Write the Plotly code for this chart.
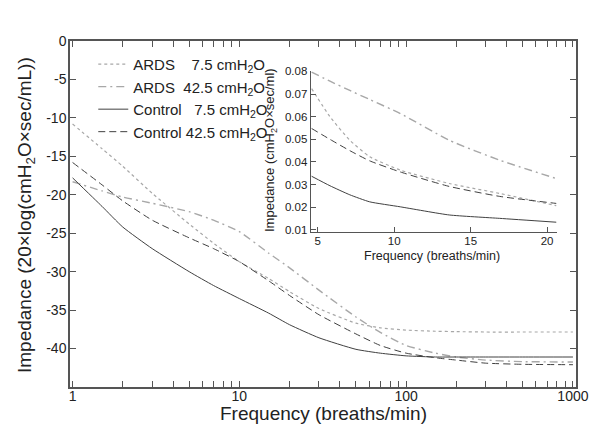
import plotly.graph_objects as go
import numpy as np

# ---------------- data ----------------
freq_main = [1, 1.5, 2, 3, 5, 7, 10, 15, 20, 30, 50, 70, 100, 150, 200, 300, 500, 1000]
ards_75_db = [-10.8, -14.0, -16.3, -19.8, -23.8, -26.3, -28.7, -30.9, -32.6, -34.8, -36.7,
              -37.3, -37.6, -37.75, -37.8, -37.85, -37.85, -37.85]
ards_425_db = [-18.3, -19.5, -20.3, -21.1, -22.2, -23.3, -24.8, -27.6, -29.5, -32.4, -35.9,
               -37.9, -39.6, -40.6, -41.1, -41.5, -41.7, -41.75]
ctrl_75_db = [-17.8, -21.5, -24.2, -27.0, -30.0, -31.8, -33.5, -35.4, -36.9, -38.6, -40.1,
              -40.6, -40.95, -41.1, -41.1, -41.1, -41.1, -41.1]
ctrl_425_db = [-15.8, -18.7, -20.8, -23.3, -25.6, -27.0, -28.7, -31.2, -33.1, -35.6, -38.1,
               -39.6, -40.6, -41.2, -41.5, -41.9, -42.05, -42.1]

freq_inset = [4.6, 5.8, 7.1, 8.4, 10.4, 13.6, 16.9, 20.6]
ards_75_in = [0.0724, 0.0600, 0.0496, 0.0423, 0.0364, 0.0305, 0.0261, 0.0207]
ards_425_in = [0.0797, 0.0757, 0.0716, 0.0676, 0.0614, 0.0496, 0.0408, 0.0327]
ctrl_75_in = [0.0337, 0.0295, 0.0255, 0.0224, 0.0202, 0.0166, 0.0151, 0.0134]
ctrl_425_in = [0.0548, 0.0500, 0.0450, 0.0405, 0.0356, 0.0292, 0.0248, 0.0217]

names = ["ARDS\u00a0\u00a0\u00a0 7.5 cmH<sub>2</sub>O",
         "ARDS\u00a0 42.5 cmH<sub>2</sub>O",
         "Control\u00a0\u00a0 7.5 cmH<sub>2</sub>O",
         "Control 42.5 cmH<sub>2</sub>O"]

main_tick_vals = [1, 10, 100, 1000]
y_tick_vals = [0, -5, -10, -15, -20, -25, -30, -35, -40]
inset_x_ticks = [5, 10, 15, 20]
inset_y_ticks = [0.01, 0.02, 0.03, 0.04, 0.05, 0.06, 0.07, 0.08]

# ---------------- styles ----------------
styles = [
    dict(color="#a8a8a8", dash="dot", width=1.2),
    dict(color="#a8a8a8", dash="8px,4px,2px,4px", width=1.4),
    dict(color="#404040", dash="solid", width=1.0),
    dict(color="#404040", dash="7px,4px", width=1.0),
]

FONT = "Arial, Liberation Sans, sans-serif"
TXT = "#222222"
fig = go.Figure()

main_series = [ards_75_db, ards_425_db, ctrl_75_db, ctrl_425_db]
inset_series = [ards_75_in, ards_425_in, ctrl_75_in, ctrl_425_in]

for name, ys, st in zip(names, main_series, styles):
    fig.add_trace(go.Scatter(x=freq_main, y=ys, mode="lines", name=name,
                             line=dict(shape="spline", smoothing=0.5, **st),
                             xaxis="x", yaxis="y"))
for name, ys, st in zip(names, inset_series, styles):
    fig.add_trace(go.Scatter(x=freq_inset, y=ys, mode="lines", name=name,
                             showlegend=False,
                             line=dict(shape="spline", smoothing=0.5, **st),
                             xaxis="x2", yaxis="y2"))

# minor ticks for log axis
minor_vals = []
for dec in [1, 10, 100]:
    for k in range(1, 10):
        minor_vals.append(dec * k)
minor_vals.append(1000)
minor_text = [str(v) if v in main_tick_vals else "" for v in minor_vals]
y_tick_text = [str(v) for v in y_tick_vals]
inset_y_text = ["%.2f" % v for v in inset_y_ticks]

# page body has an 8px offset, so margins are reduced by 8px
L, T, PW, PH = 62, 33, 506, 346
axcol = "#555555"
fig.update_layout(
    width=600, height=446,
    margin=dict(l=L, r=600 - L - PW, t=T, b=446 - T - PH, autoexpand=False),
    paper_bgcolor="white", plot_bgcolor="white",
    font=dict(family=FONT, color=TXT),
    showlegend=True,
    legend=dict(x=0.046, y=0.98, xanchor="left", yanchor="top",
                bgcolor="rgba(0,0,0,0)", font=dict(size=15, family=FONT, color=TXT),
                itemwidth=30, tracegroupgap=0),
    xaxis=dict(type="log", range=[np.log10(0.965), np.log10(1043)],
               tickvals=minor_vals, ticktext=minor_text,
               ticks="inside", ticklen=6, tickcolor=axcol,
               showline=True, linecolor=axcol, linewidth=1.5, mirror="ticks",
               showgrid=False, zeroline=False, automargin=False,
               ticklabelstandoff=-5,
               tickfont=dict(size=14, family=FONT, color=TXT)),
    yaxis=dict(range=[-45, 0], tickvals=y_tick_vals, ticktext=y_tick_text,
               ticks="inside", ticklen=6, tickcolor=axcol,
               showline=True, linecolor=axcol, linewidth=1.5, mirror="ticks",
               showgrid=False, zeroline=False, automargin=False,
               ticklabelstandoff=-1,
               tickfont=dict(size=14, family=FONT, color=TXT)),
    xaxis2=dict(domain=[0.4757, 0.9625], anchor="y2", range=[4.54, 20.65],
                tickvals=inset_x_ticks, ticks="inside", ticklen=5, tickcolor=axcol,
                showline=True, linecolor=axcol, linewidth=1.2, mirror=False,
                showgrid=False, zeroline=False, automargin=False,
                ticklabelstandoff=-2,
                tickfont=dict(size=11.5, family=FONT, color=TXT)),
    yaxis2=dict(domain=[0.4488, 0.9133], anchor="x2", range=[0.0092, 0.0802],
                tickvals=inset_y_ticks, ticktext=inset_y_text,
                ticks="inside", ticklen=5, tickcolor=axcol,
                showline=True, linecolor=axcol, linewidth=1.2, mirror=False,
                showgrid=False, zeroline=False, automargin=False,
                tickfont=dict(size=11.5, family=FONT, color=TXT)),
)

annos = [
    dict(text="Frequency (breaths/min)", x=323, y=413, size=19, angle=0),
    dict(text="Impedance (20\u00d7log(cmH<sub>2</sub>O\u00d7sec/mL))", x=26, y=215, size=19, angle=-90),
    dict(text="Frequency (breaths/min)", x=432, y=256, size=12.5, angle=0),
    dict(text="Impedance (cmH<sub>2</sub>O\u00d7sec/ml)", x=270, y=150, size=13, angle=-90),
]
for a in annos:
    fig.add_annotation(text=a["text"], xref="paper", yref="paper",
                       x=(a["x"] - 70) / PW, y=(387 - a["y"]) / PH,
                       xanchor="center", yanchor="middle", showarrow=False,
                       textangle=a["angle"],
                       font=dict(size=a["size"], family=FONT, color=TXT))

fig.write_html("out.html")
